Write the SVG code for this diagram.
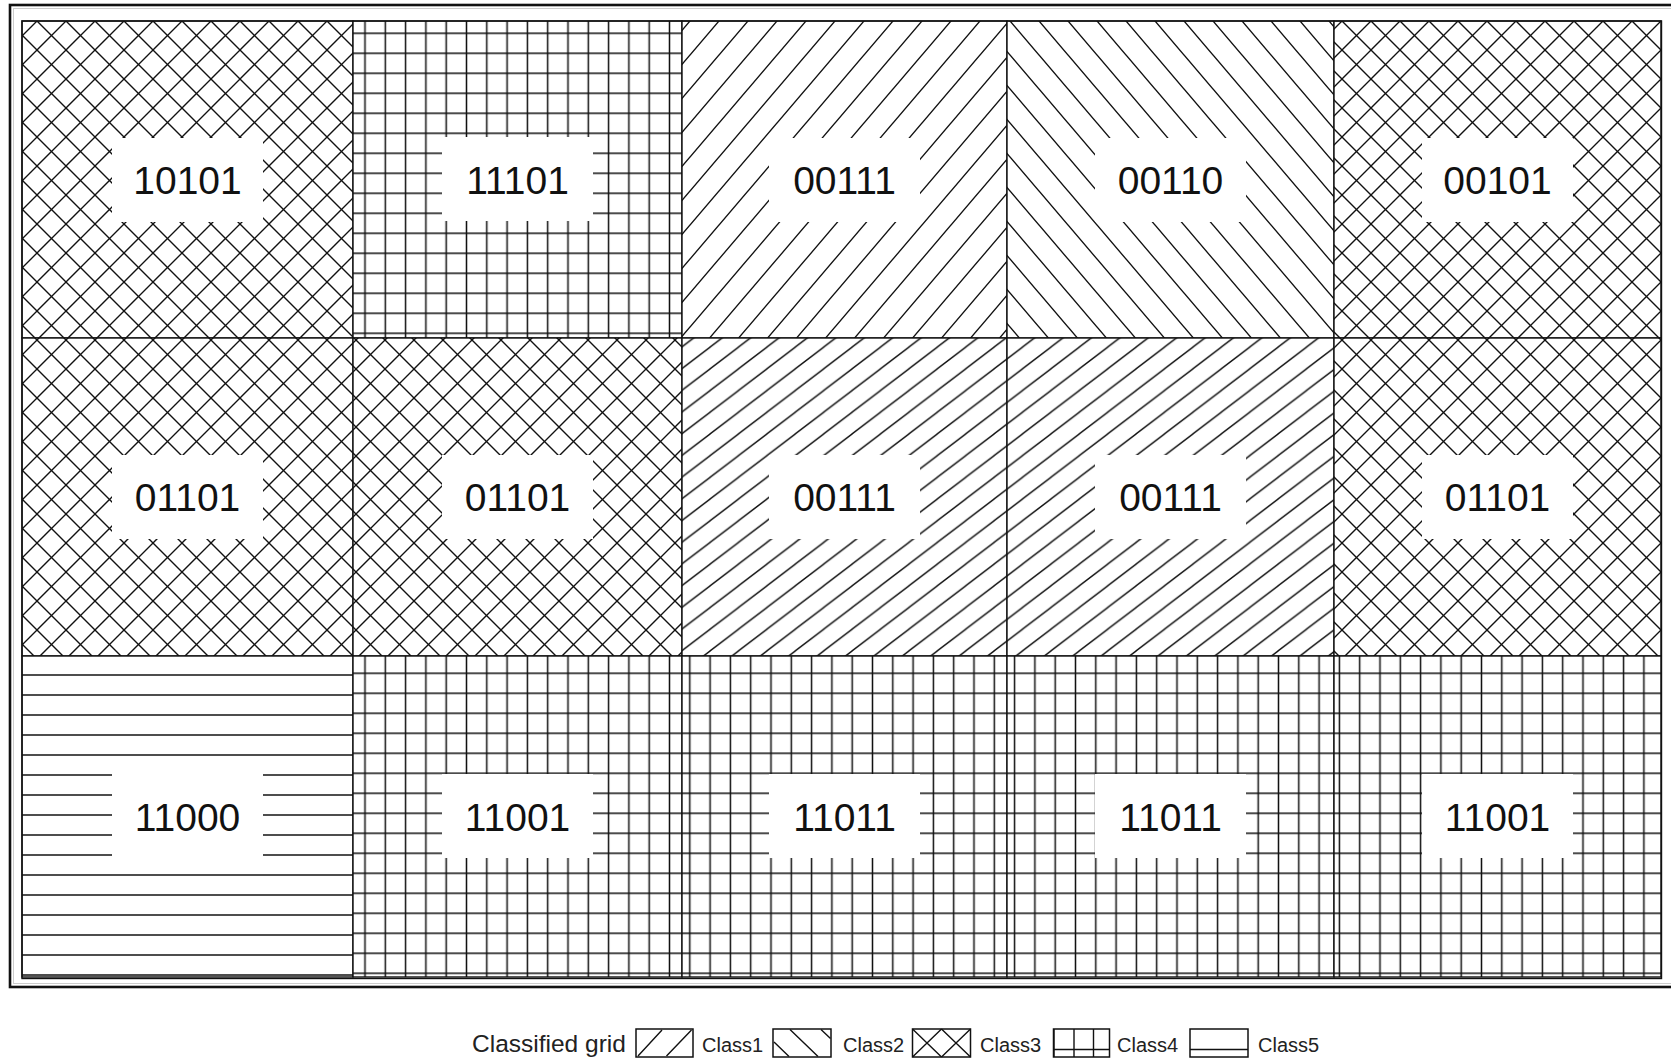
<svg xmlns="http://www.w3.org/2000/svg" width="1671" height="1059" viewBox="0 0 1671 1059">
<style>
.cell{stroke:#111;stroke-width:1.4}
.lbl{fill:#fff;stroke:none}
.t{font-family:"Liberation Sans",Arial,sans-serif;font-size:39px;fill:#111;text-anchor:middle}
.lt{font-family:"Liberation Sans",Arial,sans-serif;fill:#222}
.sw{fill:#fff;stroke:#111;stroke-width:1.5}
.ln{stroke:#111;stroke-width:1.4;fill:none}
.pl{stroke:#111;stroke-width:1.4;fill:none}
</style>
<defs>
<pattern id="c1a" patternUnits="userSpaceOnUse" x="690" y="21" width="29" height="34">
<rect width="29" height="34" fill="#fff"/>
<path class="pl" d="M-7.25,42.5 L36.25,-8.5 M-7.25,8.5 L7.25,-8.5 M21.75,42.5 L36.25,25.5"/>
</pattern>
<pattern id="c2a" patternUnits="userSpaceOnUse" x="1010" y="21" width="29" height="34">
<rect width="29" height="34" fill="#fff"/>
<path class="pl" d="M-7.25,-8.5 L36.25,42.5 M-7.25,25.5 L7.25,42.5 M21.75,-8.5 L36.25,8.5"/>
</pattern>
<pattern id="c1b" patternUnits="userSpaceOnUse" x="0" y="0" width="28.4" height="21.7">
<rect width="28.4" height="21.7" fill="#fff"/>
<path class="pl" d="M-7.1,27.125 L35.5,-5.425 M-14.2,10.85 L7.1,-5.425 M21.3,27.125 L42.6,10.85"/>
</pattern>
<pattern id="c3" patternUnits="userSpaceOnUse" x="8" y="21" width="29" height="29">
<rect width="29" height="29" fill="#fff"/>
<path class="pl" d="M-7.25,36.25 L36.25,-7.25 M-7.25,7.25 L7.25,-7.25 M21.75,36.25 L36.25,21.75"/>
<path class="pl" d="M-7.25,-7.25 L36.25,36.25 M-7.25,21.75 L7.25,36.25 M21.75,-7.25 L36.25,7.25"/>
</pattern>
<pattern id="c4" patternUnits="userSpaceOnUse" x="354.85" y="23.3" width="20.3" height="20">
<rect width="20.3" height="20" fill="#fff"/>
<path d="M10.15,0 V20 M0,10 H20.3" stroke="#111" stroke-width="1.5"/>
</pattern>
<pattern id="c5" patternUnits="userSpaceOnUse" x="0" y="665" width="40" height="20">
<rect width="40" height="20" fill="#fff"/>
<path d="M0,10 H40" stroke="#111" stroke-width="1.5"/>
</pattern>
</defs>
<rect width="1671" height="1059" fill="#fff"/>
<rect id="frame" x="10" y="5" width="1670" height="982" fill="none" stroke="#111" stroke-width="2.6"/>
<rect x="13.5" y="8.5" width="1670" height="975" fill="none" stroke="#ccc" stroke-width="1"/>

<g id="cell-r1c1"><rect class="cell" x="22" y="21" width="331" height="317" fill="url(#c3)"/><rect class="lbl" x="112" y="138" width="151" height="84"/><text class="t" x="187.5" y="193.5">10101</text></g>
<g id="cell-r1c2"><rect class="cell" x="353" y="21" width="329" height="317" fill="url(#c4)"/><rect class="lbl" x="442" y="137" width="151" height="84"/><text class="t" x="517.5" y="193.5">11101</text></g>
<g id="cell-r1c3"><rect class="cell" x="682" y="21" width="325" height="317" fill="url(#c1a)"/><rect class="lbl" x="769" y="138" width="151" height="84"/><text class="t" x="844.5" y="193.5">00111</text></g>
<g id="cell-r1c4"><rect class="cell" x="1007" y="21" width="327" height="317" fill="url(#c2a)"/><rect class="lbl" x="1095" y="138" width="151" height="84"/><text class="t" x="1170.5" y="193.5">00110</text></g>
<g id="cell-r1c5"><rect class="cell" x="1334" y="21" width="327" height="317" fill="url(#c3)"/><rect class="lbl" x="1422" y="138" width="151" height="84"/><text class="t" x="1497.5" y="193.5">00101</text></g>

<g id="cell-r2c1"><rect class="cell" x="22" y="338" width="331" height="318" fill="url(#c3)"/><rect class="lbl" x="112" y="455" width="151" height="84"/><text class="t" x="187.5" y="511">01101</text></g>
<g id="cell-r2c2"><rect class="cell" x="353" y="338" width="329" height="318" fill="url(#c3)"/><rect class="lbl" x="442" y="455" width="151" height="84"/><text class="t" x="517.5" y="511">01101</text></g>
<g id="cell-r2c3"><rect class="cell" x="682" y="338" width="325" height="318" fill="url(#c1b)"/><rect class="lbl" x="769" y="455" width="151" height="84"/><text class="t" x="844.5" y="511">00111</text></g>
<g id="cell-r2c4"><rect class="cell" x="1007" y="338" width="327" height="318" fill="url(#c1b)"/><rect class="lbl" x="1095" y="455" width="151" height="84"/><text class="t" x="1170.5" y="511">00111</text></g>
<g id="cell-r2c5"><rect class="cell" x="1334" y="338" width="327" height="318" fill="url(#c3)"/><rect class="lbl" x="1422" y="455" width="151" height="84"/><text class="t" x="1497.5" y="511">01101</text></g>

<g id="cell-r3c1"><rect class="cell" x="22" y="656" width="331" height="321" fill="url(#c5)"/><rect class="lbl" x="112" y="774" width="151" height="84"/><text class="t" x="187.5" y="830.5">11000</text></g>
<g id="cell-r3c2"><rect class="cell" x="353" y="656" width="329" height="321" fill="url(#c4)"/><rect class="lbl" x="442" y="774" width="151" height="84"/><text class="t" x="517.5" y="830.5">11001</text></g>
<g id="cell-r3c3"><rect class="cell" x="682" y="656" width="325" height="321" fill="url(#c4)"/><rect class="lbl" x="769" y="774" width="151" height="84"/><text class="t" x="844.5" y="830.5">11011</text></g>
<g id="cell-r3c4"><rect class="cell" x="1007" y="656" width="327" height="321" fill="url(#c4)"/><rect class="lbl" x="1095" y="774" width="151" height="84"/><text class="t" x="1170.5" y="830.5">11011</text></g>
<g id="cell-r3c5"><rect class="cell" x="1334" y="656" width="327" height="321" fill="url(#c4)"/><rect class="lbl" x="1422" y="774" width="151" height="84"/><text class="t" x="1497.5" y="830.5">11001</text></g>

<rect x="22" y="21" width="1639.5" height="957.5" fill="none" stroke="#111" stroke-width="1.4"/>

<g id="legend">
<text class="lt" x="472" y="1051.5" font-size="24.5">Classified grid</text>
<g id="legend-class1"><rect class="sw" x="636" y="1029" width="57" height="28"/><path class="ln" d="M638,1056 L662,1030 M666.5,1056 L691.5,1030"/><text class="lt" x="702" y="1051.5" font-size="20">Class1</text></g>
<g id="legend-class2"><rect class="sw" x="773" y="1029" width="58" height="28"/><path class="ln" d="M774,1042 L789,1056.5 M790,1029.5 L818,1056.5 M821,1029.5 L830.5,1038.5"/><text class="lt" x="843" y="1051.5" font-size="20">Class2</text></g>
<g id="legend-class3"><rect class="sw" x="912.5" y="1029" width="58" height="28"/><path class="ln" d="M912.5,1029 L941.5,1057 M941.5,1029 L912.5,1057 M941.5,1029 L970.5,1057 M970.5,1029 L941.5,1057"/><text class="lt" x="980" y="1051.5" font-size="20">Class3</text></g>
<g id="legend-class4"><rect class="sw" x="1053.5" y="1029" width="56" height="28"/><path class="ln" d="M1054,1029 V1057" stroke-width="3"/><path class="ln" d="M1074,1029 V1057 M1093.5,1029 V1057 M1053.5,1049.5 H1109.5"/><text class="lt" x="1117" y="1051.5" font-size="20">Class4</text></g>
<g id="legend-class5"><rect class="sw" x="1190" y="1029" width="58" height="28"/><path class="ln" d="M1190,1049.5 H1248"/><text class="lt" x="1258" y="1051.5" font-size="20">Class5</text></g>
</g>
</svg>
